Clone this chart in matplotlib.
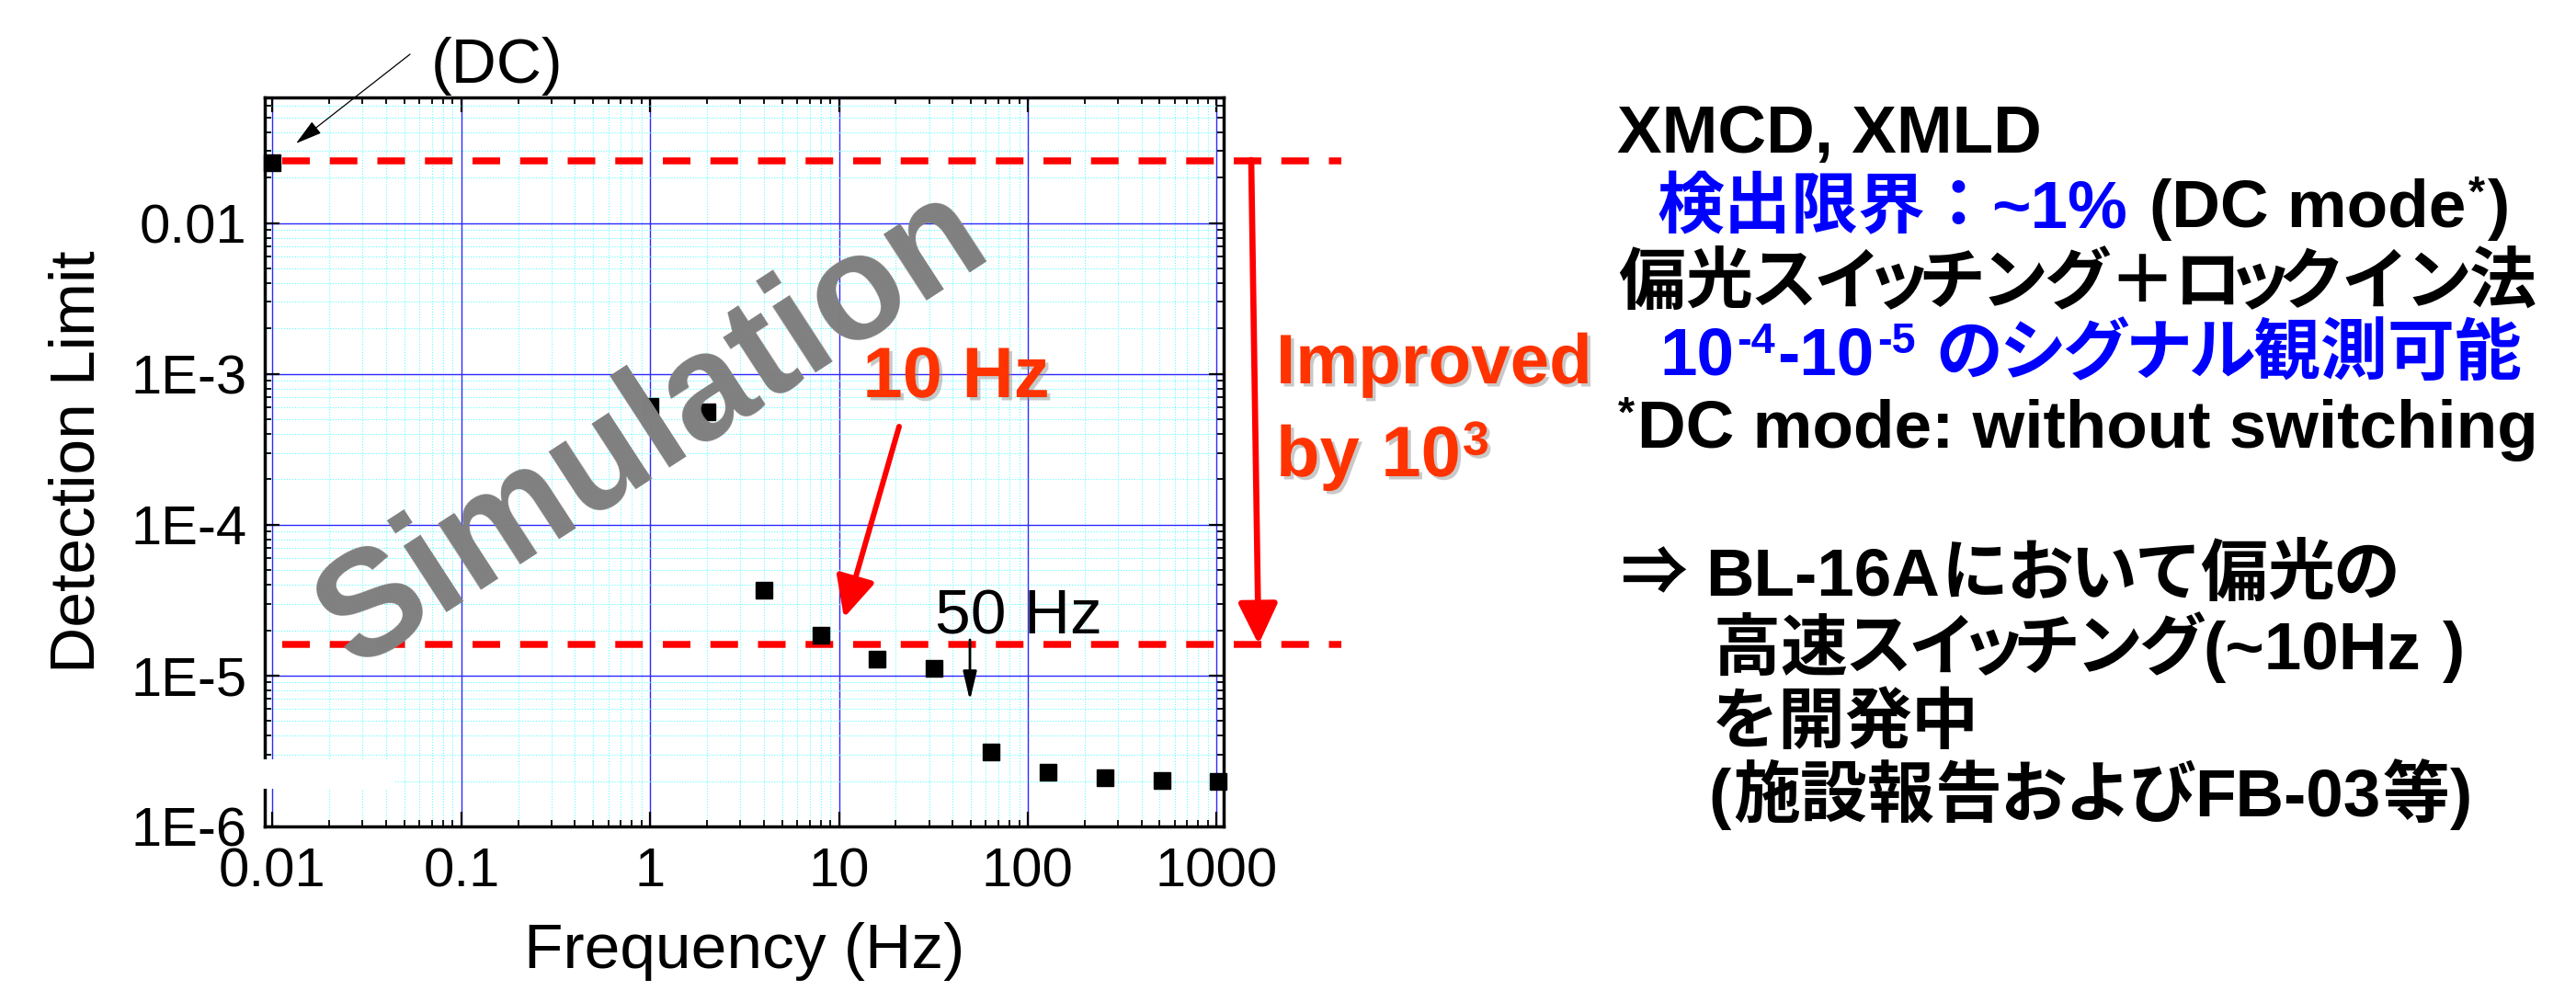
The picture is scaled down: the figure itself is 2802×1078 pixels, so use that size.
import numpy as np
import matplotlib
matplotlib.use("Agg")
import matplotlib.pyplot as plt
import matplotlib.transforms as mtransforms
import matplotlib.patheffects as pe
from matplotlib.patches import FancyArrowPatch, Rectangle
from matplotlib.ticker import FixedLocator, LogLocator, NullFormatter

# ---- data ----
freq_dc = [0.01]
limit_dc = [0.025]
freq_hz = [1, 2, 4, 8, 16, 32, 64, 128, 256, 512, 1024]
limit = [6.1e-4, 5.6e-4, 3.7e-5, 1.85e-5, 1.29e-5, 1.12e-5,
         3.1e-6, 2.3e-6, 2.1e-6, 2.03e-6, 2.0e-6]
dc_level = 2.6e-2        # upper dashed line
lockin_level = 1.6e-5    # lower dashed line
level_span = [0.0113, 4600]

x_ticks = [0.01, 0.1, 1, 10, 100, 1000]
x_ticklabels = ["0.01", "0.1", "1", "10", "100", "1000"]
y_ticks = [1e-6, 1e-5, 1e-4, 1e-3, 1e-2]
y_ticklabels = ["1E-6", "1E-5", "1E-4", "1E-3", "0.01"]

BLUE = "#0000ff"
ORANGE = "#ff3300"
RED = "#ff0000"

# right-hand notes: (text, colour, kind)
panel_text = [
    [("XMCD, XMLD", "k", "lat")],
    [("検出限界：", BLUE, "cjk"), ("~1%", BLUE, "lat"), ("", "", "sp"),
     ("(DC mode", "k", "lat"), ("*", "k", "sup"), (")", "k", "lat")],
    [("偏光スイッチング＋ロックイン法", "k", "cjk")],
    [("10", BLUE, "lat"), ("-4", BLUE, "sup"), ("-10", BLUE, "lat"), ("-5", BLUE, "sup"),
     ("", "", "sp"), ("のシグナル観測可能", BLUE, "cjk")],
    [("*", "k", "sup"), ("DC mode: without switching", "k", "lat")],
    [("⇒", "k", "cjk"), ("", "", "sp"), ("BL-16A", "k", "lat"), ("において偏光の", "k", "cjk")],
    [("高速スイッチング", "k", "cjk"), ("(~10Hz", "k", "lat"), ("", "", "sp"), (")", "k", "lat")],
    [("を開発中", "k", "cjk")],
    [("(", "k", "lat"), ("施設報告および", "k", "cjk"), ("FB-03", "k", "lat"), ("等", "k", "cjk"), (")", "k", "lat")],
]
panel_pos = [(1759, 166), (1802, 247), (1760, 330), (1805, 407), (1760, 487),
             (1762, 647), (1863, 728), (1863, 808), (1858, 888)]

W, H = 2802, 1078
ID = mtransforms.IdentityTransform()
LAT = "Liberation Sans"
CJK = "Noto Sans CJK JP"
SMALL_KANA = "ッャュョァィゥェォっゃゅょぁぃぅぇぉ"
plt.rcParams["font.family"] = [LAT, CJK, "DejaVu Sans"]

fig = plt.figure(figsize=(W / 100, H / 100), dpi=100)
renderer = fig.canvas.get_renderer()


def P(x, y):
    # pixel position measured from the top-left -> display coords
    return (x, H - y)


def cell(ch):
    # proportional advance (in em) imitating the slide's P-Gothic font
    if ch in SMALL_KANA:
        return 0.62
    if "\u30a0" <= ch <= "\u30ff":
        return 0.94
    if "\u3040" <= ch <= "\u309f":
        return 0.96
    return 1.0


def put_runs(x, y, runs, size, family=LAT, gap=3, sup_scale=0.64, sup_rise=0.32, **kw):
    em = size * 100 / 72
    cx = x
    for text, color, kind in runs:
        if kind == "sp":
            cx += 0.278 * em
            continue
        if kind == "cjk":
            for ch in text:
                c = cell(ch) * em
                fig.text(cx + c / 2, H - y, ch, ha="center", va="baseline",
                         family=[CJK, "DejaVu Sans"], weight="bold", size=size,
                         color=color, transform=ID, **kw)
                cx += c
            continue
        fs = size * sup_scale if kind == "sup" else size
        dy = sup_rise * em if kind == "sup" else 0
        t = fig.text(cx, H - y + dy, text, ha="left", va="baseline",
                     family=[family, CJK, "DejaVu Sans"], weight="bold", size=fs,
                     color=color, transform=ID, **kw)
        cx += t.get_window_extent(renderer).width + gap
    return cx


# ---- axes ----
ax = fig.add_axes([288 / W, 1 - 899 / H, (1331 - 288) / W, (899 - 106) / H])
ax.set_xscale("log")
ax.set_yscale("log")
ax.set_xlim(0.0091, 1090)
ax.set_ylim(1e-6, 0.068)

ax.xaxis.set_major_locator(FixedLocator(x_ticks))
ax.set_xticklabels(x_ticklabels)
ax.yaxis.set_major_locator(FixedLocator(y_ticks))
ax.set_yticklabels(y_ticklabels)
for axis in (ax.xaxis, ax.yaxis):
    axis.set_minor_locator(LogLocator(base=10, subs=np.arange(2, 10), numticks=100))
    axis.set_minor_formatter(NullFormatter())

ax.set_axisbelow(True)
ax.grid(which="major", color="#2a2aff", lw=1.0)
ax.grid(which="minor", color="#60ffff", lw=0.8, ls=":")
ax.tick_params(which="both", direction="in", top=True, right=True, labelsize=43)
ax.tick_params(which="major", length=11.5, width=1.6)
ax.tick_params(which="minor", length=5, width=1.3)
ax.tick_params(axis="x", pad=16)
ax.tick_params(axis="y", pad=14)
for s in ax.spines.values():
    s.set_linewidth(2.5)

ax.set_xlabel("Frequency (Hz)", fontsize=50, labelpad=19)
ax.set_ylabel("Detection Limit", fontsize=50, labelpad=19)

for lvl in (dc_level, lockin_level):
    ax.plot(level_span, [lvl, lvl], color=RED, lw=5.4, ls=(0, (4.0, 2.9)),
            solid_capstyle="butt", dash_capstyle="butt", clip_on=False, zorder=3)

ax.plot(freq_dc, limit_dc, "s", color="k", ms=12.5, clip_on=False, zorder=4)
ax.plot(freq_hz, limit, "s", color="k", ms=12.5, clip_on=False, zorder=4)

# white patch over the lower-left corner
fig.add_artist(Rectangle(P(285, 858), 145, 32, transform=ID, facecolor="white",
                         edgecolor="none", zorder=5))

# ---- annotations ----
fig.text(*P(710, 466), "Simulation", ha="center", va="center", rotation=33,
         rotation_mode="anchor", size=117, weight="bold", color="#808080",
         transform=ID, zorder=6)

fig.text(*P(541, 90), "(DC)", ha="center", va="baseline", size=49, transform=ID)
fig.add_artist(FancyArrowPatch(P(446, 59), P(322, 156), transform=ID,
                               arrowstyle="-|>,head_length=18,head_width=5",
                               color="k", lw=0.9, shrinkA=0, shrinkB=0))

fig.text(*P(1017, 690), "50 Hz", ha="left", va="baseline", size=50, transform=ID)
fig.add_artist(FancyArrowPatch(P(1055, 696), P(1055, 762), transform=ID,
                               arrowstyle="-|>,head_length=19,head_width=4.5",
                               color="k", lw=2.0, shrinkA=0, shrinkB=0))

shadow = [pe.SimplePatchShadow(offset=(2.5, -2.5), shadow_rgbFace="#888888", alpha=0.45),
          pe.Normal()]
fig.text(*P(1040, 432), "10 Hz", ha="center", va="baseline", size=56, weight="bold",
         color=ORANGE, transform=ID, path_effects=shadow)
fig.add_artist(FancyArrowPatch(P(978, 464), P(918, 672), transform=ID,
                               arrowstyle="-|>,head_length=27,head_width=13",
                               color=RED, lw=4.3, shrinkA=0, shrinkB=0))

fig.add_artist(FancyArrowPatch(P(1361, 174), P(1369, 701), transform=ID,
                               arrowstyle="-|>,head_length=27,head_width=13",
                               color=RED, lw=4.8, shrinkA=0, shrinkB=0))
put_runs(1388, 417, [("Improved", ORANGE, "lat")], 55, path_effects=shadow)
put_runs(1388, 518, [("by", ORANGE, "lat"), ("", "", "sp"), ("10", ORANGE, "lat"),
                     ("3", ORANGE, "sup")], 56, gap=2,
         sup_scale=0.67, sup_rise=0.3, path_effects=shadow)

for (px, py), runs in zip(panel_pos, panel_text):
    put_runs(px, py, runs, 52.5)

fig.savefig("out.png", dpi=100, facecolor="white")
